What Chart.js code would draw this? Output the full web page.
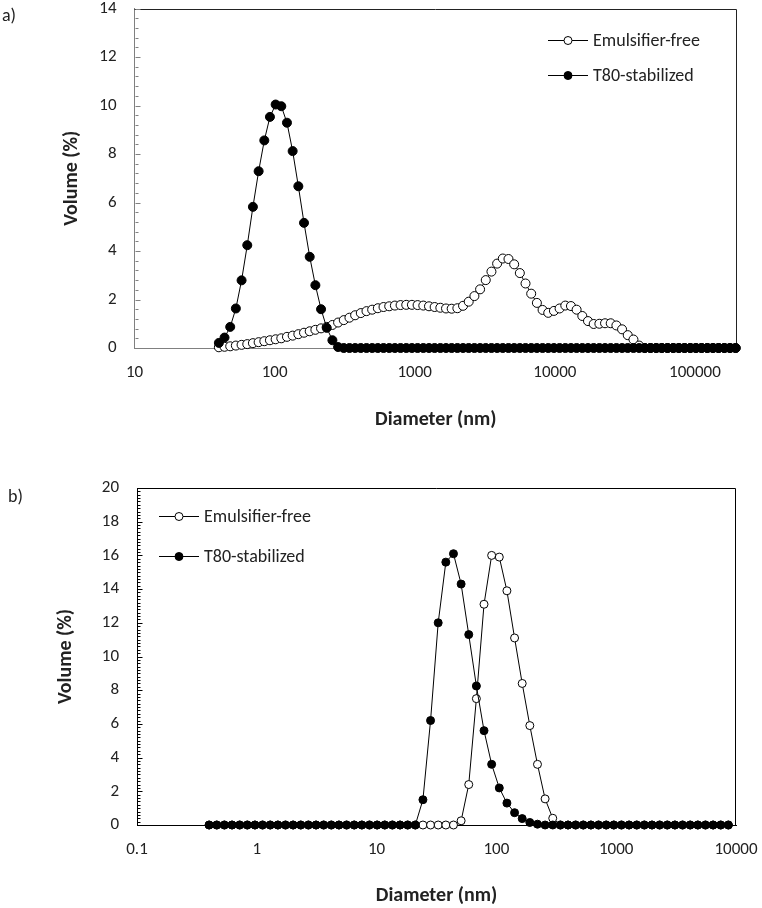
<!DOCTYPE html>
<html>
<head>
<meta charset="utf-8">
<script src="https://cdn.jsdelivr.net/npm/chart.js@4.4.1/dist/chart.umd.min.js"></script>
<style>
  body { margin: 0; background: #fff; }
  #page { position: relative; width: 762px; height: 908px; overflow: hidden; }
  .panel { position: absolute; left: 0; width: 762px; }
  .tag { position: absolute; font: 18px Carlito, Calibri, Lato, sans-serif; color: #222; }
</style>
</head>
<body>
<div id="page">
  <div class="panel" style="top:0;height:440px"><canvas id="chartA"></canvas></div>
  <div class="panel" style="top:440px;height:468px"><canvas id="chartB"></canvas></div>
  <div class="tag" style="left:2px;top:4px">a)</div>
  <div class="tag" style="left:8px;top:485px">b)</div>
</div>
<script>
const FONT = "Carlito, Calibri, Lato, sans-serif";
const TEXT = "#222";

const seriesNames = ["Emulsifier-free", "T80-stabilized"];

// a) size classes (nm) and volume (%)
const sizesA = [40, 43.9, 48.2, 52.9, 58.1, 63.8, 70, 76.9, 84.4, 92.6,
  101.7, 111.6, 122.5, 134.5, 147.7, 162.1, 178, 195.4, 214.5, 235.5,
  258.5, 283.8, 311.6, 342.1, 375.5, 412.2, 452.6, 496.8, 545.4, 598.8,
  657.4, 721.7, 792.3, 869.8, 954.9, 1048, 1151, 1264, 1387, 1523,
  1672, 1835, 2015, 2212, 2428, 2666, 2927, 3213, 3527, 3872,
  4251, 4667, 5124, 5625, 6175, 6779, 7443, 8171, 8970, 9848,
  10810, 11870, 13030, 14300, 15700, 17240, 18930, 20780, 22810, 25040,
  27490, 30180, 33130, 36380, 39940, 43840, 48130, 52840, 58010, 63690,
  69920, 76760, 84270, 92510, 101600, 111500, 122400, 134400, 147500, 161900,
  177800, 195200];
const emulsifierFreeA = [0.03, 0.05, 0.07, 0.1, 0.13, 0.16, 0.2, 0.24, 0.28, 0.32,
  0.36, 0.4, 0.46, 0.51, 0.57, 0.63, 0.69, 0.75, 0.81, 0.87,
  0.95, 1.05, 1.15, 1.25, 1.35, 1.44, 1.52, 1.58, 1.64, 1.69,
  1.72, 1.75, 1.77, 1.78, 1.78, 1.77, 1.75, 1.72, 1.69, 1.66,
  1.63, 1.62, 1.64, 1.74, 1.91, 2.14, 2.42, 2.8, 3.15, 3.48,
  3.69, 3.67, 3.45, 3.09, 2.66, 2.24, 1.86, 1.57, 1.45, 1.53,
  1.63, 1.75, 1.73, 1.58, 1.32, 1.11, 0.99, 1.0, 1.02, 1.02,
  0.93, 0.77, 0.53, 0.35, 0.1, 0, 0, 0, 0, 0,
  0, 0, 0, 0, 0, 0, 0, 0, 0, 0,
  0, 0];
const t80A = [0.21, 0.43, 0.87, 1.63, 2.79, 4.24, 5.82, 7.29, 8.56, 9.53,
  10.04, 9.97, 9.29, 8.12, 6.67, 5.16, 3.76, 2.59, 1.6, 0.83,
  0.32, 0.04, 0, 0, 0, 0, 0, 0, 0, 0,
  0, 0, 0, 0, 0, 0, 0, 0, 0, 0,
  0, 0, 0, 0, 0, 0, 0, 0, 0, 0,
  0, 0, 0, 0, 0, 0, 0, 0, 0, 0,
  0, 0, 0, 0, 0, 0, 0, 0, 0, 0,
  0, 0, 0, 0, 0, 0, 0, 0, 0, 0,
  0, 0, 0, 0, 0, 0, 0, 0, 0, 0,
  0, 0];
const xTicksA = [10, 100, 1000, 10000, 100000];
const yTicksA = [0, 2, 4, 6, 8, 10, 12, 14];

// b) size classes (nm) and volume (%)
const sizesB = [0.4, 0.4632, 0.5365, 0.6213, 0.7195, 0.8332, 0.9649, 1.117, 1.294, 1.499,
  1.736, 2.01, 2.328, 2.696, 3.122, 3.615, 4.187, 4.849, 5.615, 6.503,
  7.531, 8.721, 10.1, 11.7, 13.54, 15.69, 18.17, 21.04, 24.36, 28.21,
  32.67, 37.84, 43.82, 50.75, 58.77, 68.06, 78.82, 91.28, 105.7, 122.4,
  141.8, 164.2, 190.1, 220.2, 255, 295.3, 342, 396.1, 458.7, 531.2,
  615.1, 712.4, 825, 955.4, 1106, 1281, 1484, 1718, 1990, 2305,
  2669, 3091, 3580, 4145, 4801, 5560, 6439, 7456, 8635];
const emulsifierFreeB = [0, 0, 0, 0, 0, 0, 0, 0, 0, 0,
  0, 0, 0, 0, 0, 0, 0, 0, 0, 0,
  0, 0, 0, 0, 0, 0, 0, 0, 0, 0,
  0, 0, 0, 0.25, 2.4, 7.5, 13.1, 16.0, 15.9, 13.9,
  11.1, 8.4, 5.9, 3.6, 1.55, 0.4, 0, 0, 0, 0,
  0, 0, 0, 0, 0, 0, 0, 0, 0, 0,
  0, 0, 0, 0, 0, 0, 0, 0, 0];
const t80B = [0, 0, 0, 0, 0, 0, 0, 0, 0, 0,
  0, 0, 0, 0, 0, 0, 0, 0, 0, 0,
  0, 0, 0, 0, 0, 0, 0, 0, 1.5, 6.2,
  12.0, 15.6, 16.1, 14.3, 11.3, 8.25, 5.6, 3.6, 2.2, 1.3,
  0.73, 0.38, 0.15, 0.05, 0, 0, 0, 0, 0, 0,
  0, 0, 0, 0, 0, 0, 0, 0, 0, 0,
  0, 0, 0, 0, 0, 0, 0, 0, 0];
const xTicksB = [0.1, 1, 10, 100, 1000, 10000];
const yTicksB = [0, 2, 4, 6, 8, 10, 12, 14, 16, 18, 20];

// frame on top/right, inner y ticks and the in-plot legend
const panelDecor = {
  id: "panelDecor",
  beforeDatasetsDraw(chart, args, opts) {
    const { ctx, chartArea: a } = chart;
    const y = chart.scales.y;
    ctx.save();
    ctx.lineWidth = 1;
    ctx.strokeStyle = opts.frameColor;
    const top = Math.round(a.top) + 0.5;
    const right = Math.round(a.right) - 0.5;
    ctx.beginPath();
    ctx.moveTo(a.left, top);
    ctx.lineTo(right, top);
    ctx.lineTo(right, a.bottom);
    ctx.stroke();

    ctx.strokeStyle = opts.tickColor;
    const left = Math.round(a.left) + 0.5;
    const n = Math.round((y.max - y.min) / opts.minor);
    ctx.beginPath();
    for (let i = 0; i <= n; i++) {
      const v = y.min + i * opts.minor;
      const major = Math.abs(v / 2 - Math.round(v / 2)) < 1e-6;
      const py = Math.round(y.getPixelForValue(v)) + 0.5;
      ctx.moveTo(left, py);
      ctx.lineTo(left + (major ? 5 : 3), py);
    }
    ctx.stroke();
    ctx.restore();
  },
  afterDraw(chart, args, opts) {
    const { ctx } = chart;
    ctx.save();
    chart.data.datasets.forEach((ds, i) => {
      const ly = opts.legendY[i];
      const lx = opts.legendX;
      ctx.strokeStyle = "#000";
      ctx.lineWidth = 1;
      ctx.beginPath();
      ctx.moveTo(lx, ly + 0.5);
      ctx.lineTo(lx + 40, ly + 0.5);
      ctx.stroke();
      ctx.beginPath();
      ctx.arc(lx + 20, ly + 0.5, 4, 0, Math.PI * 2);
      ctx.fillStyle = ds.pointBackgroundColor;
      ctx.fill();
      ctx.stroke();
      ctx.fillStyle = TEXT;
      ctx.font = "18px " + FONT;
      ctx.textBaseline = "middle";
      ctx.fillText(ds.label, lx + 45, ly + 1);
    });
    ctx.restore();
  }
};

function makeChart(id, cfg) {
  const common = {
    borderColor: "#000",
    borderWidth: 1,
    pointBorderColor: "#000",
    pointBorderWidth: 1,
    pointRadius: cfg.radius,
    tension: 0,
    clip: false
  };
  return new Chart(document.getElementById(id), {
    type: "line",
    data: {
      datasets: [
        Object.assign({
          label: seriesNames[0],
          data: cfg.sizes.map((s, i) => ({ x: s, y: cfg.free[i] })),
          pointBackgroundColor: "#fff",
          order: 1
        }, common),
        Object.assign({
          label: seriesNames[1],
          data: cfg.sizes.map((s, i) => ({ x: s, y: cfg.t80[i] })),
          pointBackgroundColor: "#000",
          order: 0
        }, common)
      ]
    },
    options: {
      responsive: true,
      maintainAspectRatio: false,
      animation: false,
      events: [],
      layout: { padding: cfg.padding },
      plugins: {
        legend: { display: false },
        tooltip: { enabled: false },
        panelDecor: {
          frameColor: cfg.frameColor,
          tickColor: cfg.axisColor,
          minor: cfg.minor,
          legendX: cfg.legendX,
          legendY: cfg.legendY
        }
      },
      scales: {
        x: {
          type: "logarithmic",
          min: cfg.xMin,
          max: cfg.xMax,
          afterBuildTicks: (s) => { s.ticks = cfg.xTicks.map((v) => ({ value: v })); },
          afterFit: (s) => {
            s.height = cfg.xHeight;
            // edge labels may hang over the margins, as in the original
            s.paddingLeft = 0;
            s.paddingRight = 0;
          },
          ticks: {
            callback: (v) => String(v),
            autoSkip: false,
            maxRotation: 0,
            padding: 16,
            color: TEXT,
            font: { family: FONT, size: 17, lineHeight: 1 }
          },
          grid: { display: false, drawTicks: false },
          border: { display: true, color: cfg.axisColor, width: 1 },
          title: {
            display: true,
            text: "Diameter (nm)",
            color: TEXT,
            font: { family: FONT, size: 20, weight: "bold" },
            padding: { top: 0, bottom: cfg.xTitlePad }
          }
        },
        y: {
          min: 0,
          max: cfg.yTicks[cfg.yTicks.length - 1],
          afterBuildTicks: (s) => { s.ticks = cfg.yTicks.map((v) => ({ value: v })); },
          afterFit: (s) => {
            s.width = cfg.yWidth;
            s.paddingTop = 0;
            s.paddingBottom = 0;
          },
          ticks: {
            padding: 18,
            color: TEXT,
            font: { family: FONT, size: 17, lineHeight: 1 }
          },
          grid: { display: false, drawTicks: false },
          border: { display: true, color: cfg.axisColor, width: 1 },
          title: {
            display: true,
            text: "Volume (%)",
            color: TEXT,
            font: { family: FONT, size: 20, weight: "bold" },
            padding: { top: cfg.yTitlePad, bottom: 0 }
          }
        }
      }
    },
    plugins: [panelDecor]
  });
}

makeChart("chartA", {
  sizes: sizesA, free: emulsifierFreeA, t80: t80A,
  xTicks: xTicksA, yTicks: yTicksA,
  xMin: 10, xMax: 199500,
  radius: 4.5, minor: 0.4,
  padding: { top: 8.5, right: 25, bottom: 0, left: 0 },
  yWidth: 134.5, xHeight: 92,
  xTitlePad: 8, yTitlePad: 60,
  axisColor: "#808080", frameColor: "#222",
  legendX: 548, legendY: [40, 75]
});

makeChart("chartB", {
  sizes: sizesB, free: emulsifierFreeB, t80: t80B,
  xTicks: xTicksB, yTicks: yTicksB,
  xMin: 0.1, xMax: 10000,
  radius: 4, minor: 0.2,
  padding: { top: 48, right: 26, bottom: 0, left: 0 },
  yWidth: 137, xHeight: 83,
  xTitlePad: 0, yTitlePad: 54,
  axisColor: "#000", frameColor: "#000",
  legendX: 159, legendY: [76, 116]
});
</script>
</body>
</html>
